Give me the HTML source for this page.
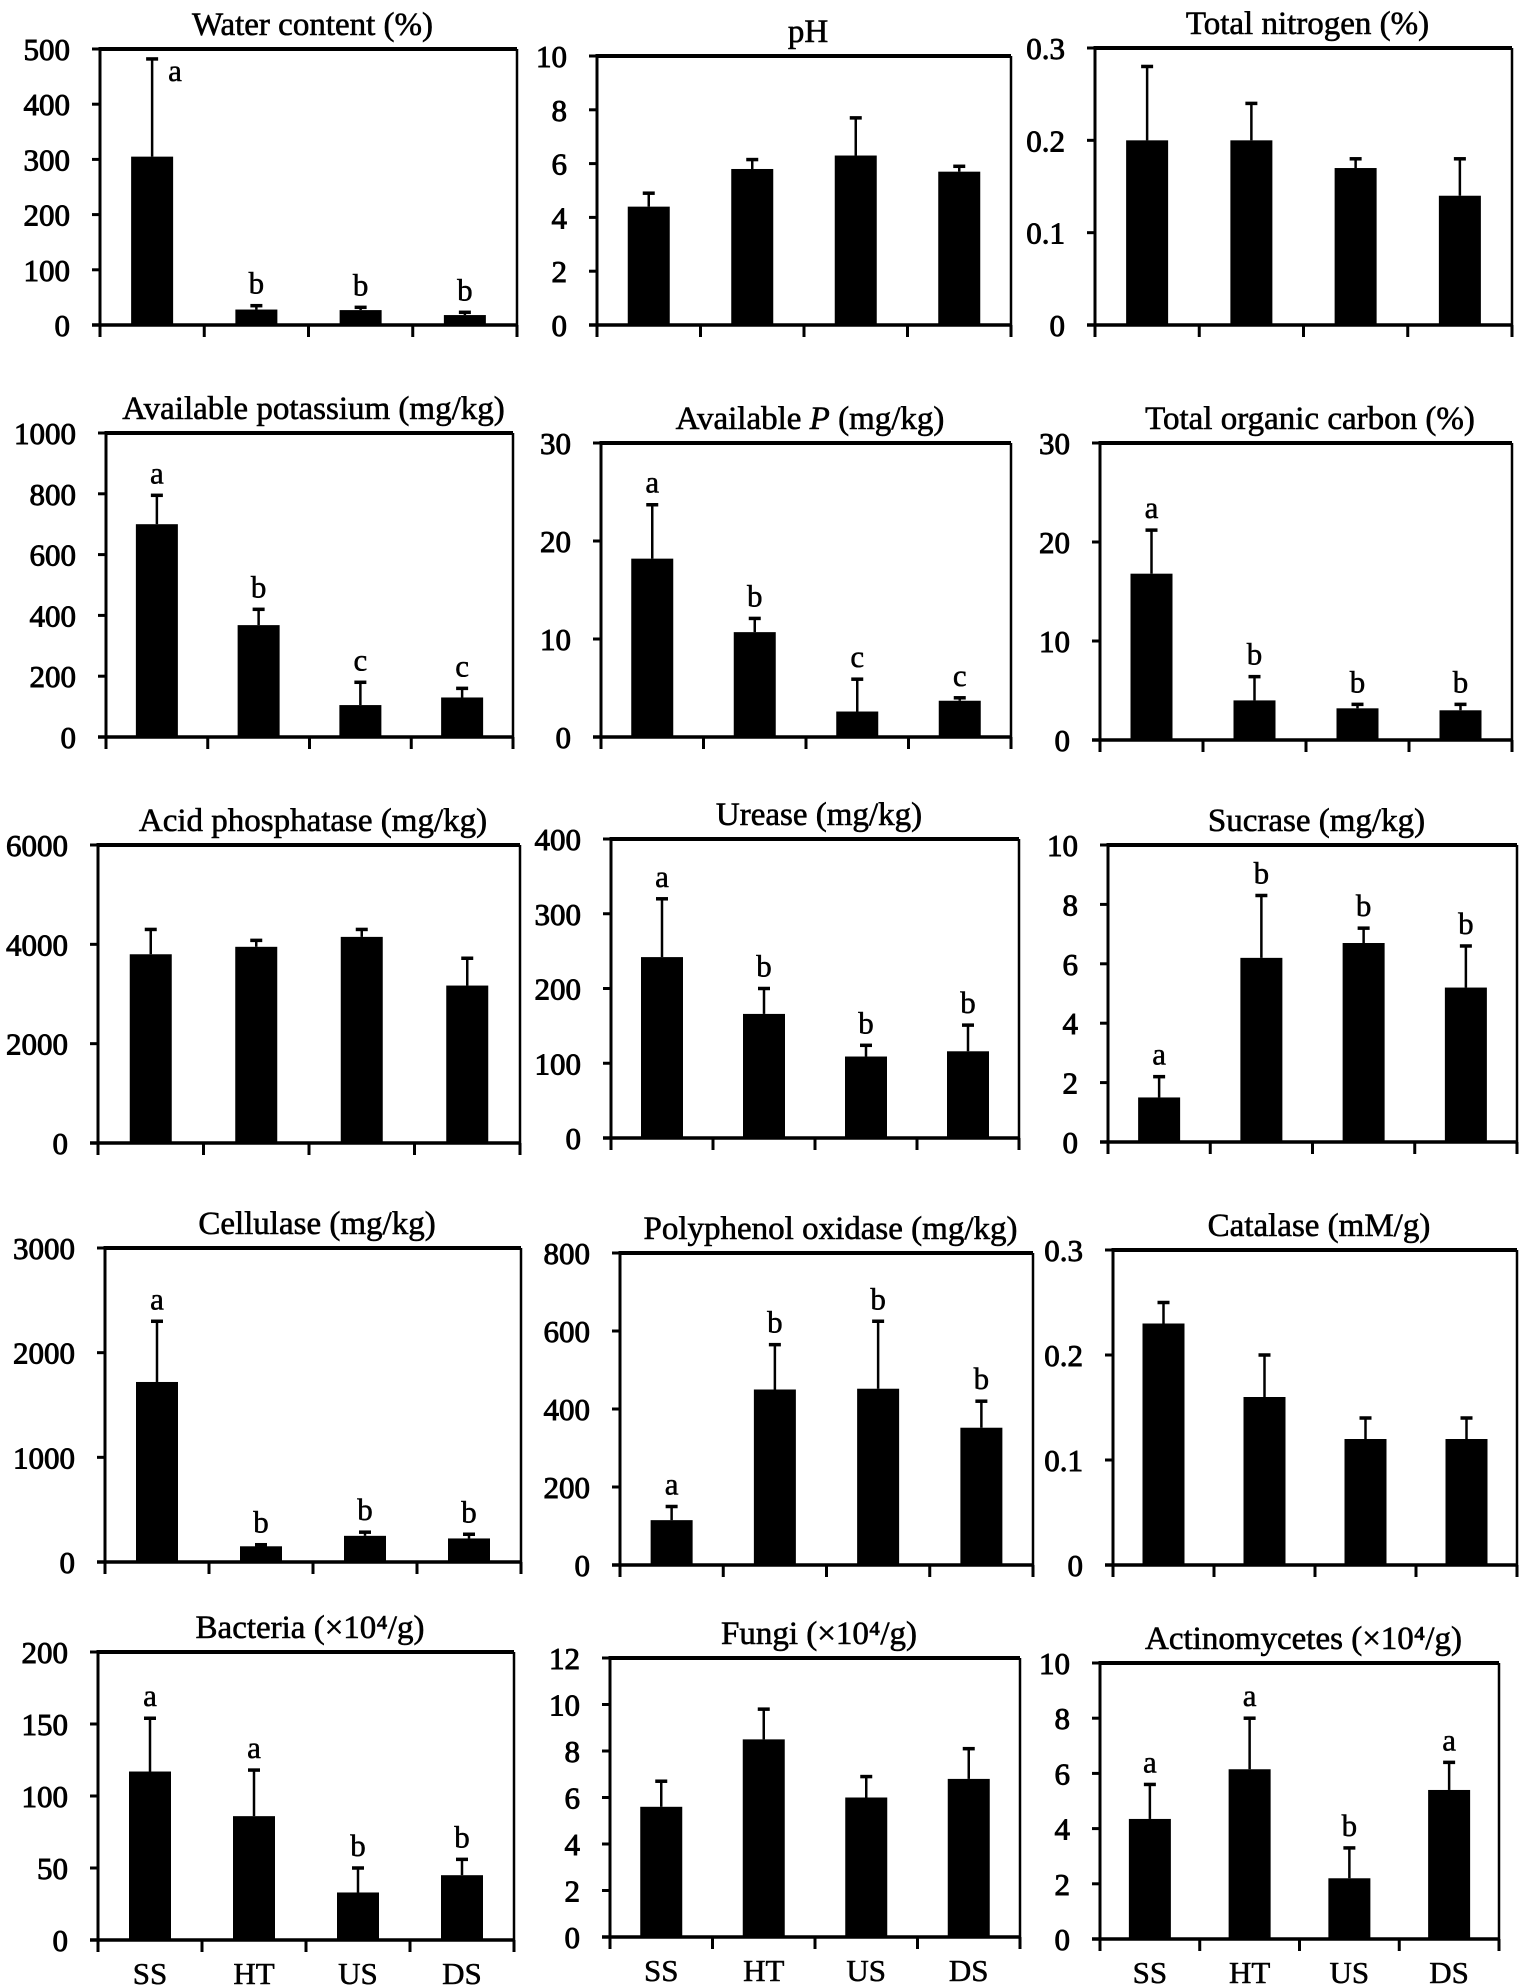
<!DOCTYPE html>
<html><head><meta charset="utf-8"><style>
html,body{margin:0;padding:0;background:#fff}
svg{display:block}
text{font-family:"Liberation Serif",serif;fill:#000}
</style></head><body>
<svg id="fig" width="1535" height="1987" viewBox="0 0 1535 1987" xmlns="http://www.w3.org/2000/svg"></svg>
<script>
const categories = ["SS","HT","US","DS"];
const titles = ["Water content (%)","pH","Total nitrogen (%)","Available potassium (mg/kg)","Available P (mg/kg)","Total organic carbon (%)","Acid phosphatase (mg/kg)","Urease (mg/kg)","Sucrase (mg/kg)","Cellulase (mg/kg)","Polyphenol oxidase (mg/kg)","Catalase (mM/g)","Bacteria (×10⁴/g)","Fungi (×10⁴/g)","Actinomycetes (×10⁴/g)"];
const means = [[305,28,27,18],[4.4,5.8,6.3,5.7],[0.2,0.2,0.17,0.14],[700,368,105,130],[18.2,10.7,2.6,3.7],[16.8,4.0,3.2,3.0],[3800,3950,4150,3170],[242,166,109,116],[1.5,6.2,6.7,5.2],[1720,150,250,225],[115,450,452,352],[0.23,0.16,0.12,0.12],[117,86,33,45],[5.6,8.5,6.0,6.8],[4.35,6.15,2.2,5.4]];
const errTops = [[482,35,32,23],[4.9,6.15,7.7,5.9],[0.28,0.24,0.18,0.18],[795,420,180,160],[23.7,12.1,5.9,4.0],[21.2,6.4,3.6,3.6],[4300,4080,4300,3720],[320,200,124,151],[2.2,8.3,7.2,6.6],[2300,165,285,265],[150,565,625,420],[0.25,0.2,0.14,0.14],[154,118,50,56],[6.7,9.8,6.9,8.1],[5.6,8.0,3.3,6.4]];
const letters = [["a","b","b","b"],[],[],["a","b","c","c"],["a","b","c","c"],["a","b","b","b"],[],["a","b","b","b"],["a","b","b","b"],["a","b","b","b"],["a","b","b","b"],[],["a","a","b","b"],[],["a","a","b","a"]];
const yMax = [500,10,0.3,1000,30,30,6000,400,10,3000,800,0.3,200,12,10];
const yStep = [100,2,0.1,200,10,10,2000,100,2,1000,200,0.1,50,2,2];
const boxes = [[100,49,517,325],[597,56,1011,325],[1095,48,1512,325],
[106,433,513,737],[601,443,1011,737],[1100,443,1512,740],
[98,845,520,1143],[611,839,1019,1138],[1108,845,1517,1142],
[105,1248,521,1562],[620,1253,1033,1565],[1113,1250,1517,1565],
[98,1652,514,1940],[610,1658,1020,1937],[1100,1663,1499,1939]];
const NS="http://www.w3.org/2000/svg";
const svg=document.getElementById('fig');
function el(tag,attrs,parent){const e=document.createElementNS(NS,tag);for(const k in attrs)e.setAttribute(k,attrs[k]);(parent||svg).appendChild(e);return e;}
function fmt(v,step){return step<1?(v===0?"0":v.toFixed(1)):String(Math.round(v));}
for(let p=0;p<15;p++){
  const [x0,y0,x1,y1]=boxes[p];
  const g=el('g',{});
  
  
  const ys=v=>y1-(v/yMax[p])*(y1-y0);
  const cw=(x1-x0)/4;
  const xs=i=>x0+cw*(i+0.5);
  const bw=42;
  const t=el('text',{x:(x0+x1)/2+4,y:y0-14,'text-anchor':'middle','font-size':33,'stroke':'#000','stroke-width':0.6},g);
  
  
  if(p===4){t.textContent='Available ';const it=el('tspan',{'font-style':'italic'},t);it.textContent='P';const r=el('tspan',{},t);r.textContent=' (mg/kg)';}
  else t.textContent=titles[p];
  el('line',{x1:x0,y1:y0,x2:x1,y2:y0,stroke:'#000','stroke-width':4},g);
  el('line',{x1:x1,y1:y0,x2:x1,y2:y1,stroke:'#000','stroke-width':2.5},g);
  const ya=el('line',{x1:x0,y1:y0-2,x2:x0,y2:y1+12,stroke:'#000','stroke-width':3},g);
  
  
  const xa=el('line',{x1:x0-8,y1:y1,x2:x1,y2:y1,stroke:'#000','stroke-width':3.5},g);
  
  
  for(let i=0;i<=4;i++){el('line',{x1:x0+cw*i,y1:y1,x2:x0+cw*i,y2:y1+12,stroke:'#000','stroke-width':3},g);}
  const n=Math.round(yMax[p]/yStep[p]);
  for(let k=0;k<=n;k++){
    const v=k*yStep[p];const yy=ys(v);
    el('line',{x1:x0-8,y1:yy,x2:x0,y2:yy,stroke:'#000','stroke-width':3},g);
    const tl=el('text',{x:x0-30,y:yy+11,'text-anchor':'end','font-size':31,'stroke':'#000','stroke-width':0.9},g);
    
    
    tl.textContent=fmt(v,yStep[p]);
  }
  for(let i=0;i<4;i++){
    const m=means[p][i],e=errTops[p][i],cx=xs(i);
    el('line',{x1:cx,y1:ys(m),x2:cx,y2:ys(e),stroke:'#000','stroke-width':2.5},g);
    el('line',{x1:cx-6,y1:ys(e),x2:cx+6,y2:ys(e),stroke:'#000','stroke-width':3.5},g);
    const b=el('rect',{x:cx-bw/2,y:ys(m),width:bw,height:y1-ys(m),fill:'#000'},g);
    
    
    const L=letters[p][i];
    if(L){
      const lt=(p===0&&i===0)?el('text',{x:cx+16,y:ys(e)+22,'text-anchor':'start','font-size':31,'stroke':'#000','stroke-width':0.5},g):el('text',{x:cx,y:ys(e)-12,'text-anchor':'middle','font-size':31,'stroke':'#000','stroke-width':0.5},g);
      
      
      lt.textContent=L;
    }
    if(p>=12){
      const cl=el('text',{x:cx,y:y1+44,'text-anchor':'middle','font-size':31,'stroke':'#000','stroke-width':0.5},g);
      
      
      cl.textContent=categories[i];
    }
  }
}
</script>
</body></html>
